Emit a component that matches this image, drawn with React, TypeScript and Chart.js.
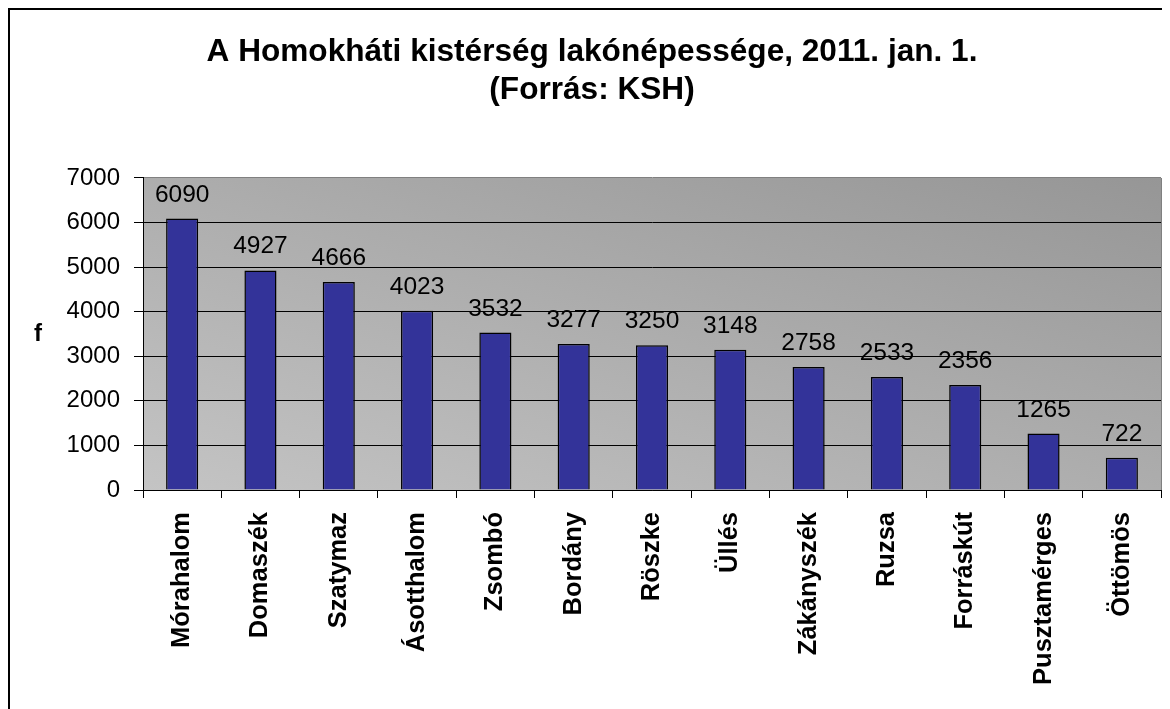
import React, { useEffect, useRef } from "react";
import { Chart, registerables } from "chart.js";

Chart.register(...registerables);

const categories = [
  "Mórahalom",
  "Domaszék",
  "Szatymaz",
  "Ásotthalom",
  "Zsombó",
  "Bordány",
  "Röszke",
  "Üllés",
  "Zákányszék",
  "Ruzsa",
  "Forráskút",
  "Pusztamérges",
  "Öttömös",
];
const population = [6090, 4927, 4666, 4023, 3532, 3277, 3250, 3148, 2758, 2533, 2356, 1265, 722];
const titleLines = ["A Homokháti kistérség lakónépessége, 2011. jan. 1.", "(Forrás: KSH)"];
const yAxisLabel = "f";

const FONT = "'Liberation Sans', Arial, sans-serif";
const W = 1162;
const H = 701;

const framePlugin = {
  id: "frame",
  beforeDraw(chart: any) {
    const { ctx, chartArea } = chart;
    ctx.save();
    ctx.fillStyle = "#ffffff";
    ctx.fillRect(0, 0, chart.width, chart.height);
    ctx.fillStyle = "#000000";
    ctx.fillRect(0, 0, chart.width, 2);
    ctx.fillRect(0, 0, 2, chart.height);
    const { left, right, top, bottom } = chartArea;
    const w = right - left;
    const h = bottom - top;
    const k = (2 * w * h) / (w * w + h * h);
    const g = ctx.createLinearGradient(left, bottom, left + h * k, bottom - w * k);
    g.addColorStop(0, "#c4c4c4");
    g.addColorStop(1, "#969696");
    ctx.fillStyle = g;
    ctx.fillRect(left, top, w, h);
    ctx.restore();
  },
  afterDraw(chart: any) {
    const { ctx, chartArea } = chart;
    ctx.save();
    ctx.strokeStyle = "#808080";
    ctx.lineWidth = 1;
    ctx.beginPath();
    ctx.moveTo(chartArea.right + 0.5, chartArea.top);
    ctx.lineTo(chartArea.right + 0.5, chartArea.bottom);
    ctx.stroke();
    ctx.fillStyle = "#000";
    ctx.font = `bold 24px ${FONT}`;
    ctx.textAlign = "center";
    ctx.textBaseline = "middle";
    ctx.fillText(yAxisLabel, 30, (chartArea.top + chartArea.bottom) / 2);
    ctx.restore();
  },
};

const labelPlugin = {
  id: "valueLabels",
  afterDatasetsDraw(chart: any) {
    const { ctx } = chart;
    const meta = chart.getDatasetMeta(0);
    const data = chart.data.datasets[0].data;
    ctx.save();
    ctx.fillStyle = "#000";
    ctx.font = `24.5px ${FONT}`;
    ctx.textAlign = "center";
    ctx.textBaseline = "alphabetic";
    meta.data.forEach((bar: any, i: number) => {
      ctx.fillText(String(data[i]), bar.x, bar.y - 17);
    });
    ctx.restore();
  },
};

export default function App() {
  const ref = useRef<HTMLCanvasElement | null>(null);

  useEffect(() => {
    document.body.style.overflow = "hidden";
    const canvas = ref.current!;
    const chart = new Chart(canvas, {
      type: "bar",
      data: {
        labels: categories,
        datasets: [
          {
            data: population,
            backgroundColor: "#333399",
            borderColor: "#000000",
            borderWidth: 1.5,
            categoryPercentage: 1,
            barPercentage: 0.41,
          },
        ],
      },
      options: {
        responsive: false,
        animation: false,
        devicePixelRatio: 1,
        layout: { padding: { top: 0, left: 15, right: 9, bottom: 0 } },
        plugins: {
          legend: { display: false },
          tooltip: { enabled: false },
          title: {
            display: true,
            text: titleLines,
            color: "#000",
            font: { family: FONT, size: 31.6, weight: "bold", lineHeight: 1.193 },
            padding: { top: 25.4, bottom: 69.2 },
          },
        },
        scales: {
          x: {
            grid: {
              display: true,
              drawOnChartArea: false,
              drawTicks: true,
              tickLength: 8,
              tickColor: "#000",
              offset: true,
            },
            border: { display: true, color: "#000", width: 1 },
            ticks: {
              autoSkip: false,
              maxRotation: 90,
              minRotation: 90,
              padding: 14,
              color: "#000",
              font: { family: FONT, size: 25.5, weight: "bold" },
            },
            afterFit(scale: any) {
              scale.height = 219;
            },
          },
          y: {
            min: 0,
            max: 7000,
            ticks: {
              stepSize: 1000,
              padding: 14,
              color: "#000",
              font: { family: FONT, size: 24 },
              callback: (v: any) => String(v),
            },
            grid: {
              color: (c: any) => (c.tick && c.tick.value === 7000 ? "#808080" : "#000000"),
              lineWidth: 1,
              tickLength: 9,
              tickColor: "#000",
            },
            border: { display: true, color: "#000", width: 1 },
            afterFit(scale: any) {
              scale.width = 120;
            },
          },
        },
      },
      plugins: [framePlugin, labelPlugin],
    } as any);
    return () => chart.destroy();
  }, []);

  return (
    <div>
      <canvas ref={ref} width={W} height={H} style={{ display: "block", width: W, height: H }} />
    </div>
  );
}
